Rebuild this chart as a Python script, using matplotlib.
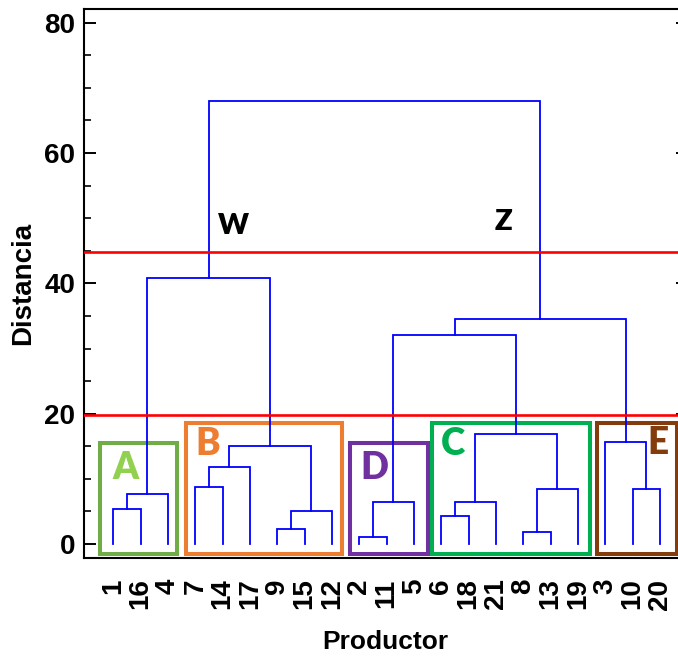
import matplotlib
matplotlib.use("Agg")
import matplotlib.pyplot as plt
from matplotlib.patches import Rectangle
from matplotlib.ticker import MultipleLocator

# ---------------- data ----------------
leaf_labels = ['1', '16', '4', '7', '14', '17', '9', '15', '12', '2', '11', '5',
               '6', '18', '21', '8', '13', '19', '3', '10', '20']

# merges: (left, right, height); 'cN' refers to the N-th merge
merge_left = ['1', 'c0', '7', 'c2', '9', 'c4', 'c3', 'c1', '2', 'c8',
              '6', 'c10', '8', 'c12', 'c11', 'c9', '10', '3', 'c15', 'c7']
merge_right = ['16', '4', '14', '17', '15', '12', 'c5', 'c6', '11', '5',
               '18', '21', '13', '19', 'c13', 'c14', '20', 'c16', 'c17', 'c18']
merge_height = [5.3, 7.7, 8.8, 11.8, 2.25, 5.0, 15.1, 40.8, 1.1, 6.5,
                4.3, 6.5, 1.8, 8.45, 16.9, 32.0, 8.45, 15.6, 34.5, 68.0]

cut_levels = [44.8, 19.8]

group_names = ['A', 'B', 'D', 'C', 'E']
group_first = ['1', '7', '2', '6', '3']
group_last = ['4', '12', '5', '19', '20']
group_top = [15.5, 18.6, 15.5, 18.6, 18.6]

side_names = ['W', 'Z']

# ---------------- style / layout ----------------
W, H = 678, 660
fig = plt.figure(figsize=(W / 100, H / 100), dpi=100)
ax = fig.add_axes([83.5 / W, 102.3 / H, (688 - 83.5) / W, (651 - 102.3) / H])

box_edge = {'A': '#70ad47', 'B': '#ed7d31', 'D': '#7030a0', 'C': '#00b050', 'E': '#843c0c'}
box_text = {'A': '#92d050', 'B': '#ed7d31', 'D': '#7030a0', 'C': '#00b050', 'E': '#843c0c'}
box_pad_l = {'A': 0.49, 'B': 0.34, 'D': 0.34, 'C': 0.34, 'E': 0.31}
box_pad_r = {'A': 0.32, 'B': 0.36, 'D': 0.51, 'C': 0.44, 'E': 0.63}
box_bottom = -1.6
label_xy = {'A': (0.46, 11.7), 'B': (3.47, 15.3), 'D': (9.57, 11.7),
            'C': (12.43, 15.3), 'E': (19.93, 15.5)}
side_xy = {'W': (4.38, 48.8), 'Z': (14.28, 49.4)}

letter_font = ['Lato', 'DejaVu Sans']
axis_font = ['Liberation Sans', 'DejaVu Sans']

# ---------------- dendrogram ----------------
pos = {lab: (i, 0.0) for i, lab in enumerate(leaf_labels)}
for i, (a, b, h) in enumerate(zip(merge_left, merge_right, merge_height)):
    x1, h1 = pos[a]
    x2, h2 = pos[b]
    ax.plot([x1, x1, x2, x2], [h1, h, h, h2], color='#0000ff', lw=1.3,
            solid_joinstyle='miter', zorder=3)
    pos['c%d' % i] = ((x1 + x2) / 2, h)

for lvl in cut_levels:
    ax.axhline(lvl, color='#ff0000', lw=1.9, zorder=4)

idx = {lab: i for i, lab in enumerate(leaf_labels)}
for name, f, l, top in zip(group_names, group_first, group_last, group_top):
    x0 = idx[f] - box_pad_l[name]
    x1 = idx[l] + box_pad_r[name]
    ax.add_patch(Rectangle((x0, box_bottom), x1 - x0, top - box_bottom,
                           fill=False, edgecolor=box_edge[name], lw=2.9,
                           joinstyle='miter', zorder=2))
    tx, ty = label_xy[name]
    ax.text(tx, ty, name, color=box_text[name], fontsize=26.5, fontweight='heavy',
            family=letter_font, ha='center', va='center', zorder=5)

for name in side_names:
    tx, ty = side_xy[name]
    ax.text(tx, ty, name, color='black', fontsize=21, fontweight='heavy',
            family=letter_font, ha='center', va='center', zorder=5)

# ---------------- axes ----------------
ax.set_xlim(-1.09, 21.03)
ax.set_ylim(-2.1, 82.1)
ax.set_xticks(range(len(leaf_labels)))
ax.set_xticklabels(leaf_labels, rotation=90, fontsize=20, fontweight='bold',
                   family=axis_font, va='top')
ax.tick_params(axis='x', length=0, pad=15)
ax.yaxis.set_major_locator(MultipleLocator(20))
ax.yaxis.set_minor_locator(MultipleLocator(5))
ax.tick_params(axis='y', which='major', direction='in', length=8.4, width=1.4,
               labelsize=20, pad=6, right=True)
ax.tick_params(axis='y', which='minor', direction='in', length=4.8, width=1.2,
               right=True)
for t in ax.get_yticklabels():
    t.set_fontweight('bold')
    t.set_family(axis_font)
for s in ax.spines.values():
    s.set_linewidth(1.5)

ax.set_ylabel('Distancia', fontsize=20, fontweight='bold', family=axis_font, labelpad=6)
ax.set_xlabel('Productor', fontsize=19, fontweight='bold', family=axis_font, labelpad=15)

fig.savefig('out.png', dpi=100)
